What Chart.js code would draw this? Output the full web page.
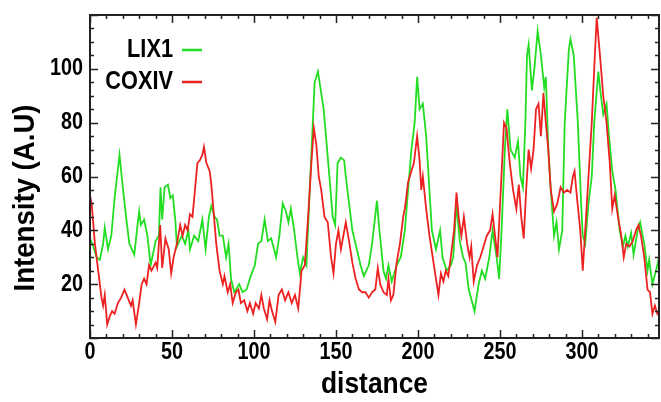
<!DOCTYPE html>
<html>
<head>
<meta charset="utf-8">
<script src="https://cdn.jsdelivr.net/npm/chart.js@4.4.1/dist/chart.umd.min.js"></script>
<style>
	html, body { margin: 0; padding: 0; background: #fff; }
	#wrap { width: 661px; height: 402px; }
</style>
</head>
<body>
<div id="wrap"><canvas id="chart"></canvas></div>
<script>
// LIX1 profile (distance / intensity)
const lixDist = [0, 2, 4, 6, 8, 9, 11, 13, 15, 18, 20, 22, 24, 27, 29, 30, 31, 33, 35, 37, 39, 40, 42, 43, 44, 45.5, 47.5, 49, 50.5, 52, 53, 56, 58, 60, 61, 63.5, 66, 68.5, 70.5, 72.5, 74, 76, 77.5, 79, 81, 83, 84.5, 86, 88, 90, 91, 93, 95.5, 98, 100.5, 102.5, 104.5, 106.5, 108.5, 110.5, 113.5, 115.5, 117.5, 119.5, 121, 122.5, 124.5, 126.5, 128, 130, 132, 134, 135.5, 137, 139, 140.5, 142.5, 146, 148, 149.5, 151, 153, 155, 156, 160, 165, 167, 170, 172, 175, 176.5, 179, 180.5, 182, 184, 187, 189.5, 192, 194, 196, 198, 199.5, 201, 203, 205, 207, 208.5, 211, 213.5, 215, 217.5, 220, 221.5, 223.5, 225.5, 227.5, 229, 231, 234.5, 237, 239, 241, 243.5, 245.5, 248, 249.5, 251, 253, 254.5, 256.5, 259, 261, 262.5, 264, 265.5, 266.5, 267.5, 269.5, 271, 273, 275, 277, 278, 279.5, 281, 283, 284.5, 286, 288, 289.5, 292, 293, 295, 297.5, 299.5, 300.5, 302, 304, 306, 307.5, 310, 311, 313, 315, 316.5, 318.5, 320.5, 323, 325, 326.5, 328, 330, 331.5, 334, 335.5, 338, 340, 341, 343, 346, 347];
const lixVal = [37, 34, 30, 29, 35, 41, 33, 38, 52, 68, 56, 45, 35, 31, 42, 47, 42, 44, 38, 27, 33, 36, 38, 56, 44, 56, 57, 52, 53, 44, 34, 38, 35, 40, 33, 38, 36, 44, 33, 45, 49, 45, 44, 38, 38, 30, 35, 22, 17, 19, 20, 17, 18, 23, 27, 35, 36, 44, 36, 37, 30, 38, 50, 47, 43, 48, 40, 30, 24, 30, 27, 55, 75, 95, 99, 93, 85, 60, 45, 42, 65, 67, 66, 60, 40, 27, 23, 27, 35, 51, 40, 25, 22, 27, 21, 27, 30, 40, 55, 70, 80, 97, 85, 87, 75, 55, 40, 33, 40, 30, 25, 27, 30, 50, 36, 30, 28, 18, 10, 20, 25, 22, 30, 40, 30, 22, 40, 70, 85, 70, 67, 73, 60, 56, 80, 105, 109, 92, 100, 114, 105, 93, 97, 70, 55, 38, 43, 33, 40, 80, 107, 111, 105, 80, 50, 38, 35, 50, 60, 80, 99, 93, 83, 87, 75, 62, 55, 40, 34, 38, 34, 39, 31, 40, 43, 35, 25, 29, 20, 27, 30];

// COXIV profile
const coxDist = [0, 1, 3, 5, 7, 8, 9, 10.5, 12, 13.5, 15, 17, 19, 21, 23, 25, 26, 28, 30, 31.5, 33, 34.5, 36, 37.5, 40, 41, 42.8, 44, 46, 48, 49.5, 51, 53, 55, 56.5, 58, 59.5, 61, 62.5, 64, 65.5, 67, 68.5, 69.5, 71, 73, 74, 75.5, 77, 79, 81, 82, 84, 85.5, 87, 89, 90.5, 92, 94, 96, 97.5, 99.5, 101, 103, 104.5, 106, 108, 109.5, 111, 113, 115, 117, 119, 121, 123, 125, 127, 129, 131, 133, 135, 136.5, 138, 139.5, 141, 143, 145, 147, 148.5, 150, 151.5, 153, 154.5, 156, 158, 160, 162, 164, 166, 168, 170, 172, 174, 175.5, 177, 179, 181, 182, 183.5, 185, 187, 189, 191, 192, 194, 196, 197.5, 199.5, 201, 202, 203, 205, 207, 209, 211, 212.5, 214, 215.5, 217, 218.5, 220, 222, 223.5, 225, 226.5, 228, 230, 231.5, 232.5, 234, 236, 238, 240, 242, 244, 245.5, 247, 248.5, 250.5, 252.5, 254, 256, 258, 260, 261.5, 263, 264.5, 266, 267.5, 269, 270.5, 272, 273.5, 275, 276.5, 278, 279.5, 281, 283, 285, 287, 289, 291, 293, 294.5, 295.5, 297, 299, 300.5, 302, 304, 306, 307.5, 309, 311, 313, 315, 317, 318.5, 320, 322, 324, 325.5, 327, 329, 331, 333, 334.5, 336, 338, 340, 341.5, 343, 344.5, 346, 347];
const coxVal = [53, 50, 35, 25, 15, 12, 16, 5, 8, 10, 9, 13, 15, 18, 15, 12, 14, 5, 13, 20, 22, 20, 27, 25, 28, 26, 42, 26, 37, 33, 24, 30, 35, 42, 38, 42, 40, 46, 45, 55, 65, 66, 68, 71, 65, 62, 57, 46, 35, 25, 20, 23, 17, 20, 13, 17, 18, 13, 14, 10, 13, 9, 13, 11, 16, 11, 7, 14, 10, 6, 16, 18, 14, 17, 13, 16, 11, 25, 27, 45, 65, 78, 72, 60, 55, 45, 43, 30, 24, 35, 40, 33, 38, 43, 36, 28, 22, 18, 17, 17, 15, 17, 18, 26, 20, 17, 16, 22, 14, 16, 28, 35, 45, 48, 58, 62, 65, 75, 66, 55, 60, 48, 38, 30, 22, 16, 24, 21, 25, 23, 30, 40, 54, 44, 38, 45, 35, 30, 34, 21, 27, 30, 34, 38, 40, 46, 38, 30, 55, 80, 78, 65, 55, 48, 57, 45, 37, 55, 70, 63, 70, 85, 87, 75, 91, 80, 70, 55, 47, 50, 56, 54, 55, 54, 60, 62, 52, 40, 25, 40, 60, 80, 100, 119, 105, 90, 80, 65, 48, 53, 45, 38, 30, 35, 34, 36, 40, 42, 38, 30, 18, 17, 9, 12, 9, 10];

const xTickLabels = [0, 50, 100, 150, 200, 250, 300];
const yTickLabels = [20, 40, 60, 80, 100];

const GREEN = 'rgb(34, 221, 34)';
const RED = 'rgb(236, 34, 34)';
const FONT = '"Liberation Sans", Arial, sans-serif';

const toPoints = (xs, ys) => xs.map((x, i) => ({ x, y: ys[i] }));

// bold text squeezed horizontally (the original uses a narrow face)
function squeezed(ctx, text, x, y, size, sx, align, rot) {
	ctx.save();
	ctx.translate(x, y);
	if (rot) ctx.rotate(rot);
	ctx.scale(sx, 1);
	ctx.font = 'bold ' + size + 'px ' + FONT;
	ctx.textAlign = align;
	ctx.textBaseline = 'middle';
	ctx.fillStyle = '#000';
	ctx.fillText(text, 0, 0);
	ctx.restore();
}

// frame, inward ticks, tick labels, legend and axis titles
const decor = {
	id: 'decor',
	afterDraw(chart) {
		const { ctx, chartArea } = chart;
		const { left, right, top, bottom } = chartArea;
		const xs = chart.scales.x;
		const ys = chart.scales.y;
		ctx.save();
		ctx.strokeStyle = '#222';
		ctx.lineWidth = 2;
		ctx.strokeRect(left, top, right - left, bottom - top);

		ctx.lineWidth = 1.5;
		ctx.beginPath();
		for (let v = 0; v <= xs.max; v += 10) {
			const px = Math.round(xs.getPixelForValue(v)) + 0.5;
			const len = v % 50 === 0 ? 8 : 4;
			ctx.moveTo(px, bottom);
			ctx.lineTo(px, bottom - len);
			ctx.moveTo(px, top);
			ctx.lineTo(px, top + len);
		}
		for (let v = 0; v <= ys.max; v += 5) {
			const py = Math.round(ys.getPixelForValue(v)) + 0.5;
			const len = v % 20 === 0 ? 8 : 4;
			ctx.moveTo(left, py);
			ctx.lineTo(left + len, py);
			ctx.moveTo(right, py);
			ctx.lineTo(right - len, py);
		}
		ctx.stroke();
		ctx.restore();

		xs.ticks.forEach((t) => {
			squeezed(ctx, String(t.value), xs.getPixelForValue(t.value), bottom + 15, 23, 0.86, 'center');
		});
		ys.ticks.forEach((t) => {
			squeezed(ctx, String(t.value), left - 7, ys.getPixelForValue(t.value), 23, 0.86, 'right');
		});

		// legend
		const items = [
			['LIX1', GREEN, 50],
			['COXIV', RED, 82],
		];
		items.forEach(([label, color, y]) => {
			squeezed(ctx, label, 173, y, 25, 0.87, 'right');
			ctx.save();
			ctx.strokeStyle = color;
			ctx.lineWidth = 2.5;
			ctx.beginPath();
			ctx.moveTo(182, y);
			ctx.lineTo(202, y);
			ctx.stroke();
			ctx.restore();
		});

		// axis titles
		squeezed(ctx, 'distance', (left + right) / 2, 385, 30, 0.88, 'center');
		squeezed(ctx, 'Intensity (A.U)', 26, 198, 30, 0.92, 'center', -Math.PI / 2);
	},
};

new Chart(document.getElementById('chart'), {
	type: 'line',
	data: {
		datasets: [
			{
				label: 'LIX1',
				data: toPoints(lixDist, lixVal),
				borderColor: GREEN,
				borderWidth: 1.8,
				pointRadius: 0,
				tension: 0,
				order: 2,
			},
			{
				label: 'COXIV',
				data: toPoints(coxDist, coxVal),
				borderColor: RED,
				borderWidth: 1.8,
				pointRadius: 0,
				tension: 0,
				order: 1,
			},
		],
	},
	options: {
		responsive: true,
		maintainAspectRatio: false,
		animation: false,
		layout: { padding: { top: 15, right: 2, left: 0, bottom: 0 } },
		plugins: {
			legend: { display: false },
			tooltip: { enabled: false },
		},
		scales: {
			x: {
				type: 'linear',
				min: 0,
				max: 347,
				grid: { display: false },
				border: { display: false },
				afterBuildTicks: (scale) => {
					scale.ticks = xTickLabels.map((v) => ({ value: v }));
				},
				afterFit: (scale) => {
					scale.height = 64;
				},
				ticks: { display: false },
			},
			y: {
				min: 0,
				max: 120,
				grid: { display: false },
				border: { display: false },
				afterBuildTicks: (scale) => {
					scale.ticks = yTickLabels.map((v) => ({ value: v }));
				},
				afterFit: (scale) => {
					scale.width = 90;
				},
				ticks: { display: false },
			},
		},
	},
	plugins: [decor],
});
</script>
</body>
</html>
